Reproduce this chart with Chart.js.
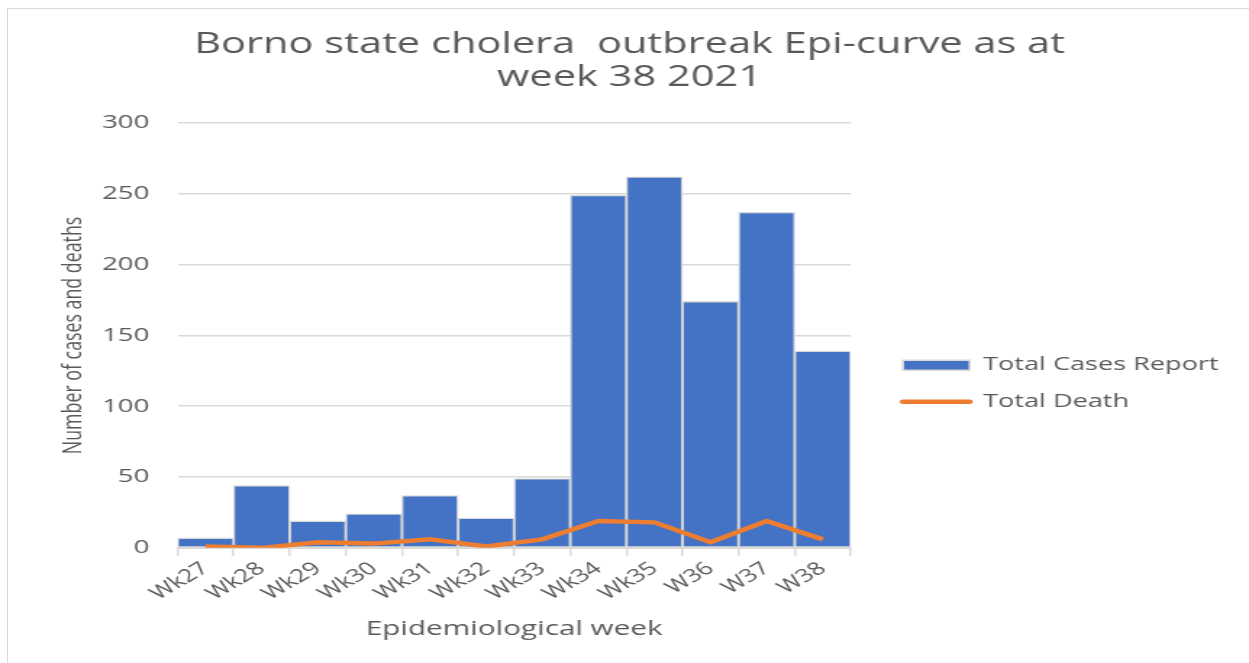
<!DOCTYPE html>
<html>
<head>
<meta charset="utf-8">
<script src="https://cdn.jsdelivr.net/npm/chart.js@4"></script>
<style>
  html, body { margin: 0; padding: 0; background: #fff; overflow: hidden; }
  #frame { position: absolute; left: 7px; top: 8px; width: 1300px; height: 700px; border: 1px solid #d9d9d9; }
  /* the original picture is stretched sideways, so the chart is drawn narrower and scaled out */
  #wrap { position: absolute; left: 0; top: 0; width: 862px; height: 663px; transform: scaleX(1.449); transform-origin: 0 0; }
</style>
</head>
<body>
<div id="frame"></div>
<div id="wrap"><canvas id="chart"></canvas></div>
<script>
const weeks = ["Wk27", "Wk28", "Wk29", "Wk30", "Wk31", "Wk32", "Wk33", "Wk34", "Wk35", "W36", "W37", "W38"];
const totalCases = [7, 44, 19, 24, 37, 21, 49, 249, 262, 174, 237, 139];
const totalDeaths = [1, 0, 4, 3, 6, 1, 6, 19, 18, 4, 19, 6];
const yTicks = [0, 50, 100, 150, 200, 250, 300];

const grey = "#595959";
const font = "'Open Sans', 'Noto Sans', sans-serif";

// nudge the legend and the title to where they sit in the original
const nudge = {
    id: "nudge",
    afterLayout(chart) {
        const l = chart.legend;
        l.left += 18; l.right += 18;
        l.top += 61; l.bottom += 61;
        const t = chart.titleBlock;
        t.left -= 2; t.right -= 2;
    }
};

const ctx = document.getElementById("chart");

new Chart(ctx, {
    type: "bar",
    data: {
        labels: weeks,
        datasets: [{
            label: "Total Cases Report",
            data: totalCases,
            backgroundColor: "#4472C4",
            borderColor: "#d9d9d9",
            borderWidth: 1.3,
            borderSkipped: false,
            categoryPercentage: 1,
            barPercentage: 1,
            order: 1
        }, {
            type: "line",
            label: "Total Death",
            data: totalDeaths,
            borderColor: "#ED7D31",
            backgroundColor: "#ED7D31",
            borderWidth: 4.5,
            pointRadius: 0,
            tension: 0,
            order: 0
        }]
    },
    plugins: [nudge],
    options: {
        responsive: true,
        maintainAspectRatio: false,
        animation: false,
        layout: { padding: { left: 40, right: 29, top: 0, bottom: 18 } },
        plugins: {
            title: {
                display: true,
                text: ["Borno state cholera  outbreak Epi-curve as at", "week 38 2021"],
                color: grey,
                font: { family: font, size: 28.7, weight: "normal", lineHeight: 1.15 },
                padding: { top: 28, bottom: 29 }
            },
            legend: {
                position: "right",
                maxWidth: 400,
                labels: {
                    color: grey,
                    font: { family: font, size: 18.7 },
                    usePointStyle: true,
                    pointStyleWidth: 46,
                    boxHeight: 10,
                    padding: 18,
                    generateLabels: (chart) => chart.data.datasets.map((ds, i) => ({
                        text: ds.label,
                        datasetIndex: i,
                        fillStyle: ds.backgroundColor,
                        strokeStyle: i === 0 ? "#d9d9d9" : ds.borderColor,
                        lineWidth: i === 0 ? 1.5 : 4.5,
                        lineCap: "round",
                        pointStyle: i === 0 ? "rect" : "line",
                        fontColor: grey
                    }))
                }
            },
            tooltip: { enabled: false }
        },
        scales: {
            x: {
                offset: true,
                grid: { display: true, drawOnChartArea: false, drawTicks: true, tickLength: 8, color: "#d9d9d9", lineWidth: 1.5 },
                border: { display: true, color: "#d9d9d9", width: 2 },
                ticks: { color: grey, font: { family: font, size: 18 }, minRotation: 40, maxRotation: 40, padding: 2 },
                title: {
                    display: true,
                    text: "Epidemiological week",
                    color: grey,
                    font: { family: font, size: 20.5 },
                    padding: { top: 10 }
                }
            },
            y: {
                min: 0,
                max: 300,
                afterBuildTicks: (axis) => { axis.ticks = yTicks.map(v => ({ value: v })); },
                afterFit: (axis) => { axis.width = 82.5; },
                grid: { color: "#d9d9d9", lineWidth: 1.5, drawTicks: false },
                border: { display: false },
                ticks: { color: grey, font: { family: font, size: 19 }, padding: 19.4 },
                title: {
                    display: true,
                    text: "Number of cases and deaths",
                    color: grey,
                    font: { family: font, size: 17.8 },
                    padding: { top: 0, bottom: 8 }
                }
            }
        }
    }
});
</script>
</body>
</html>
